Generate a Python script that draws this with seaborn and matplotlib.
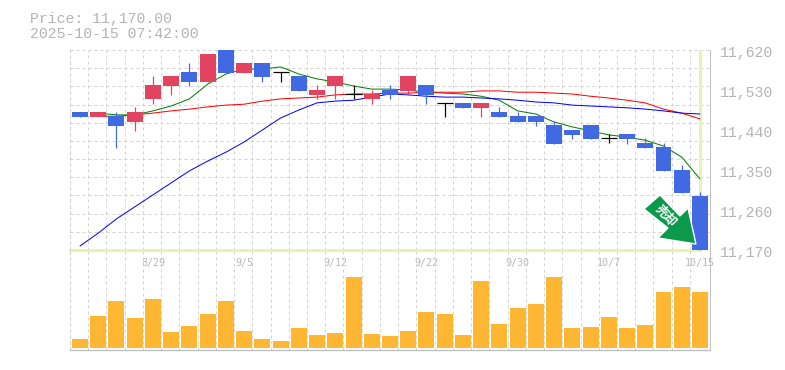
import numpy as np
import pandas as pd
import matplotlib
matplotlib.use("Agg")
import matplotlib.pyplot as plt
from matplotlib.patches import Polygon
from matplotlib.transforms import IdentityTransform
import seaborn as sns

# Values
body_top = [11480, 11480, 11471, 11480, 11541, 11561, 11570, 11611, 11620, 11591,
            11591, 11570, 11561, 11530, 11561, 11521, 11521, 11530, 11561, 11541,
            11501, 11501, 11501, 11480, 11471, 11471, 11451, 11440, 11451, 11422,
            11431, 11411, 11402, 11350, 11291]
body_bottom = [11469, 11469, 11449, 11458, 11510, 11539, 11548, 11548, 11568, 11568,
               11559, 11570, 11528, 11519, 11539, 11521, 11510, 11519, 11528, 11519,
               11501, 11490, 11490, 11469, 11458, 11458, 11408, 11429, 11420, 11422,
               11420, 11400, 11348, 11298, 11170]
wick_high = [11480, 11480, 11480, 11492, 11561, 11561, 11591, 11611, 11620, 11591,
             11591, 11570, 11561, 11541, 11561, 11541, 11530, 11541, 11561, 11541,
             11501, 11501, 11501, 11492, 11480, 11471, 11460, 11440, 11451, 11431,
             11431, 11422, 11411, 11361, 11300]
wick_low = [11469, 11469, 11400, 11438, 11498, 11519, 11539, 11548, 11568, 11568,
            11548, 11548, 11528, 11510, 11510, 11510, 11498, 11510, 11519, 11498,
            11469, 11490, 11469, 11469, 11458, 11449, 11408, 11420, 11420, 11411,
            11408, 11400, 11348, 11298, 11170]
direction = ["down", "up", "down", "up", "up", "up", "down", "up", "down", "up",
             "down", "flat", "down", "up", "up", "flat", "up", "down", "up", "down",
             "flat", "down", "up", "down", "down", "down", "down", "down", "down", "flat",
             "down", "down", "down", "down", "down"]
volume = [9, 32, 47, 30, 49, 16, 22, 34, 47, 17, 9, 7, 20, 13, 15, 71, 14, 12,
          17, 36, 34, 13, 67, 24, 40, 44, 71, 20, 21, 31, 20, 23, 56, 61, 56]
ma_short = [np.nan, 11478, 11474, 11474, 11483, 11494, 11510, 11543, 11566, 11577,
            11577, 11582, 11566, 11555, 11548, 11539, 11532, 11532, 11530, 11525,
            11523, 11521, 11516, 11507, 11483, 11476, 11458, 11447, 11438, 11429,
            11424, 11417, 11404, 11379, 11330]
ma_mid = [np.nan, 11471, 11471, 11474, 11478, 11483, 11487, 11492, 11496, 11498,
          11505, 11510, 11512, 11514, 11519, 11521, 11521, 11523, 11523, 11525,
          11525, 11525, 11528, 11528, 11525, 11525, 11523, 11521, 11516, 11512,
          11507, 11501, 11487, 11478, 11465]
ma_long = [11179, 11208, 11240, 11267, 11294, 11321, 11348, 11370, 11390, 11413,
           11440, 11467, 11485, 11501, 11505, 11507, 11514, 11521, 11519, 11516,
           11514, 11514, 11512, 11510, 11507, 11503, 11501, 11496, 11494, 11492,
           11490, 11487, 11483, 11478, 11476]
price_ticks = [11620, 11530, 11440, 11350, 11260, 11170]
date_idx = [4, 9, 14, 19, 24, 29, 34]
date_labels = ["8/29", "9/5", "9/12", "9/22", "9/30", "10/7", "10/15"]
price_now = 11170
title_lines = ["Price: 11,170.00", "2025-10-15 07:42:00"]

df = pd.DataFrame({"i": range(len(volume)), "top": body_top, "bottom": body_bottom,
                   "high": wick_high, "low": wick_low, "dir": direction, "vol": volume,
                   "short": ma_short, "mid": ma_mid, "long": ma_long})

sns.set_theme(style="white")
plt.rcParams["font.family"] = ["Liberation Mono", "DejaVu Sans Mono"]

W, H = 785, 370
fig = plt.figure(figsize=(W / 100, H / 100), dpi=100, facecolor="white")
ax = fig.add_axes([70 / W, (H - 250) / H, 640 / W, 200 / H])
ax_vol = fig.add_axes([70 / W, (H - 350) / H, 640 / W, 100 / H])

colors = {"up": "#e2445f", "down": "#4169e1", "flat": "black"}
grid_color = "#d2d2d2"
dash = (0, (3, 3))
xlim = (-0.548, 34.55)
px = 0.72  # one pixel in points

# price panel
ax.set_xlim(xlim)
ax.set_ylim(11170, 11620)
ax.set_xticks(date_idx)
ax.set_xticklabels(date_labels, fontsize=7.2, color="#b8b8b8", family="DejaVu Sans Mono")
ax.set_xticks(df["i"].to_numpy()[:-1] + 0.45, minor=True)
ax.set_yticks(np.linspace(11170, 11620, 12))
ax.set_yticklabels([])
ax.tick_params(axis="both", which="both", length=0)
ax.tick_params(axis="x", which="major", pad=6)
ax.grid(True, which="minor", axis="x", color=grid_color, linestyle=dash, lw=px)
ax.grid(True, which="major", axis="y", color=grid_color, linestyle=dash, lw=px)
ax.set_axisbelow(True)
for s in ["top", "bottom"]:
    ax.spines[s].set_visible(False)
ax.spines["left"].set(color=grid_color, linestyle=dash, linewidth=px)
ax.spines["right"].set(color="#c0c0c0", linewidth=px)

ax.axvline(34.02, color="#e4f5b0", lw=3 * px, zorder=1.5)
ax.plot([xlim[0], 34.02], [price_now, price_now], color="#e4f5b0", lw=3 * px, zorder=1.5, clip_on=False)

for col, c in [("short", "#008000"), ("mid", "#ff0000"), ("long", "#0000ff")]:
    sns.lineplot(data=df, x="i", y=col, ax=ax, color=c, linewidth=px, errorbar=None, zorder=2)
ax.set_xlabel("")
ax.set_ylabel("")

for _, r in df.iterrows():
    c = colors[r["dir"]]
    ax.vlines(r["i"], r["low"], r["high"], color=c, lw=px * 1.2, zorder=3, clip_on=False)
    if r["dir"] == "flat":
        ax.hlines(r["top"], r["i"] - 0.44, r["i"] + 0.44, color=c, lw=px * 1.2, zorder=3)
    else:
        ax.bar(r["i"], r["top"] - r["bottom"], bottom=r["bottom"], width=0.877,
               color=c, lw=0, zorder=3, clip_on=False)

for p in price_ticks:
    ax.annotate(f"{p:,}", xy=(1, p), xycoords=ax.get_yaxis_transform(),
                xytext=(10, -3), textcoords="offset pixels", va="center", ha="left",
                fontsize=10.7, color="#b4b4b4", annotation_clip=False)

# sell arrow, placed relative to the foot of the last candle
ax_x, ax_y = ax.transData.transform((df["i"].iloc[-1], df["bottom"].iloc[-1]))
shape = np.array([(-40, 55), (-20, 34), (-12, 42), (-4, 6), (-42, 12), (-32, 22), (-56, 41)])
ax.add_patch(Polygon(shape + [ax_x, ax_y], closed=True, transform=IdentityTransform(),
                     facecolor="#0a9a4a", edgecolor="white", lw=1.0, zorder=5, clip_on=False))
ax.annotate("売却", xy=(ax_x - 34, ax_y + 34), xycoords="figure pixels", ha="center", va="center",
            rotation=-47, rotation_mode="anchor", fontsize=9, color="white", fontweight="bold",
            family=["Noto Sans CJK JP", "DejaVu Sans"], zorder=6)

# volume panel
sns.barplot(data=df, x="i", y="vol", ax=ax_vol, native_scale=True, color="#ffb733",
            width=0.877, saturation=1, lw=0, zorder=2)
ax_vol.patch.set_visible(False)
ax_vol.set_xlim(xlim)
ax_vol.set_ylim(-2, 98)
ax_vol.set_xlabel("")
ax_vol.set_ylabel("")
ax_vol.set_xticks(df["i"].to_numpy()[:-1] + 0.45)
ax_vol.set_xticklabels([])
ax_vol.set_yticks([])
ax_vol.tick_params(length=0)
ax_vol.grid(True, axis="x", color=grid_color, linestyle=dash, lw=px)
ax_vol.set_axisbelow(True)
ax_vol.spines["top"].set_visible(False)
ax_vol.spines["left"].set(color=grid_color, linestyle=dash, linewidth=px)
ax_vol.spines["right"].set(color="#c0c0c0", linewidth=px)
ax_vol.spines["bottom"].set(color="#c0c0c0", linewidth=px * 1.4)

# header
fig.text(30 / W, 1 - 18.5 / H, title_lines[0], fontsize=10.7, color="#b4b4b4", va="center")
fig.text(30 / W, 1 - 33.5 / H, title_lines[1], fontsize=10.7, color="#b4b4b4", va="center")

fig.savefig("out.png", dpi=100)
